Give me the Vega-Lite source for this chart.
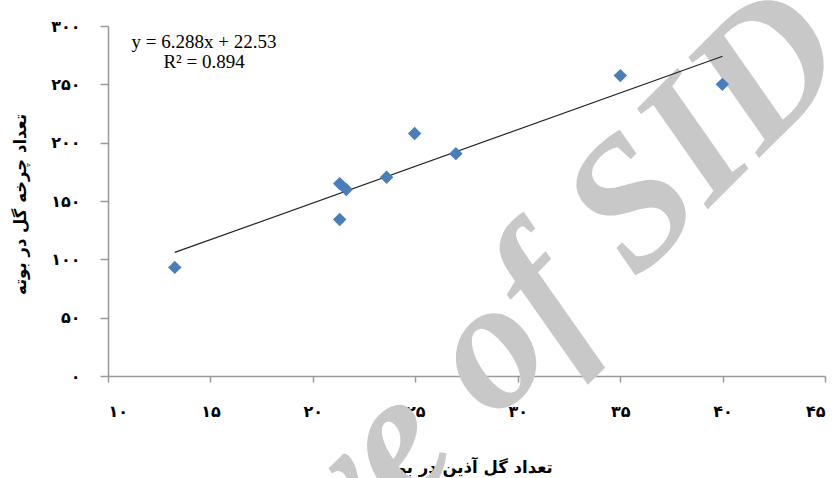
{
  "$schema": "https://vega.github.io/schema/vega-lite/v6.json",
  "width": 717,
  "height": 350,
  "autosize": {"type": "none"},
  "padding": {"left": 108, "top": 26, "right": 8, "bottom": 102},
  "background": "white",
  "config": {
    "view": {"stroke": null},
    "axis": {
      "grid": false,
      "domainColor": "#999999",
      "domainWidth": 1.5,
      "tickColor": "#999999",
      "tickWidth": 1.5,
      "labelFont": "DejaVu Sans",
      "labelFontWeight": "bold",
      "labelFontSize": 16,
      "labelColor": "#000000",
      "titleFont": "DejaVu Sans",
      "titleFontWeight": "bold",
      "titleFontSize": 16.5,
      "titleColor": "#000000",
      "zindex": 1
    }
  },
  "datasets": {
    "points": [
      {"gol": 13.26, "charkhe": 93.1},
      {"gol": 21.31, "charkhe": 164.9},
      {"gol": 21.63, "charkhe": 159.8},
      {"gol": 21.31, "charkhe": 134.1},
      {"gol": 23.6, "charkhe": 170.3},
      {"gol": 24.97, "charkhe": 207.8},
      {"gol": 26.98, "charkhe": 190.6},
      {"gol": 35.01, "charkhe": 257.5},
      {"gol": 39.99, "charkhe": 250.0}
    ],
    "trend": [
      {"gol": 13.26, "charkhe": 105.91},
      {"gol": 40.0, "charkhe": 274.05}
    ],
    "equation": [
      {"gol": 14.69, "charkhe": 281.4, "label": "y = 6.288x + 22.53\nR² = 0.894"}
    ],
    "watermark": [
      {"gol": 24.64, "charkhe": -46.3, "label": "Archive of SID"}
    ]
  },
  "layer": [
    {
      "data": {"name": "watermark"},
      "mark": {"type": "text", "font": "Liberation Serif", "fontWeight": "bold", "fontStyle": "italic", "fontSize": 185, "color": "#c8c8c8", "angle": -45, "align": "center", "baseline": "middle"},
      "encoding": {
        "x": {"field": "gol", "type": "quantitative", "scale": {"domain": [10, 45], "nice": false, "zero": false},
          "axis": {"values": [10, 15, 20, 25, 30, 35, 40, 45], "tickSize": 6, "labelPadding": 21,
            "labelExpr": "replace(replace(replace(replace(replace(replace(datum.label, regexp('0','g'), '۰'), regexp('1','g'), '۱'), regexp('2','g'), '۲'), regexp('3','g'), '۳'), regexp('4','g'), '۴'), regexp('5','g'), '۵')",
            "title": "تعداد گل آذین در بوته", "titleX": 358, "titleY": 91, "titleBaseline": "middle", "titleAnchor": null}},
        "y": {"field": "charkhe", "type": "quantitative", "scale": {"domain": [0, 300], "nice": false, "zero": false},
          "axis": {"values": [0, 50, 100, 150, 200, 250, 300], "tickSize": 8, "labelPadding": 20,
            "labelExpr": "replace(replace(replace(replace(replace(replace(datum.label, regexp('0','g'), '۰'), regexp('1','g'), '۱'), regexp('2','g'), '۲'), regexp('3','g'), '۳'), regexp('4','g'), '۴'), regexp('5','g'), '۵')",
            "title": "تعداد چرخه گل در بوته", "titleX": -88, "titleY": 178, "titleBaseline": "middle", "titleAngle": -90}},
        "text": {"field": "label", "type": "nominal"}
      }
    },
    {
      "data": {"name": "trend"},
      "mark": {"type": "line", "color": "#222222", "strokeWidth": 1.2},
      "encoding": {
        "x": {"field": "gol", "type": "quantitative"},
        "y": {"field": "charkhe", "type": "quantitative"}
      }
    },
    {
      "data": {"name": "points"},
      "mark": {"type": "point", "shape": "diamond", "filled": true, "size": 180, "color": "#4a7ebb", "opacity": 1},
      "encoding": {
        "x": {"field": "gol", "type": "quantitative"},
        "y": {"field": "charkhe", "type": "quantitative"}
      }
    },
    {
      "data": {"name": "equation"},
      "mark": {"type": "text", "font": "Liberation Serif", "fontSize": 19, "color": "#000000", "align": "center", "baseline": "alphabetic", "lineBreak": "\n", "lineHeight": 20},
      "encoding": {
        "x": {"field": "gol", "type": "quantitative"},
        "y": {"field": "charkhe", "type": "quantitative"},
        "text": {"field": "label", "type": "nominal"}
      }
    }
  ]
}
